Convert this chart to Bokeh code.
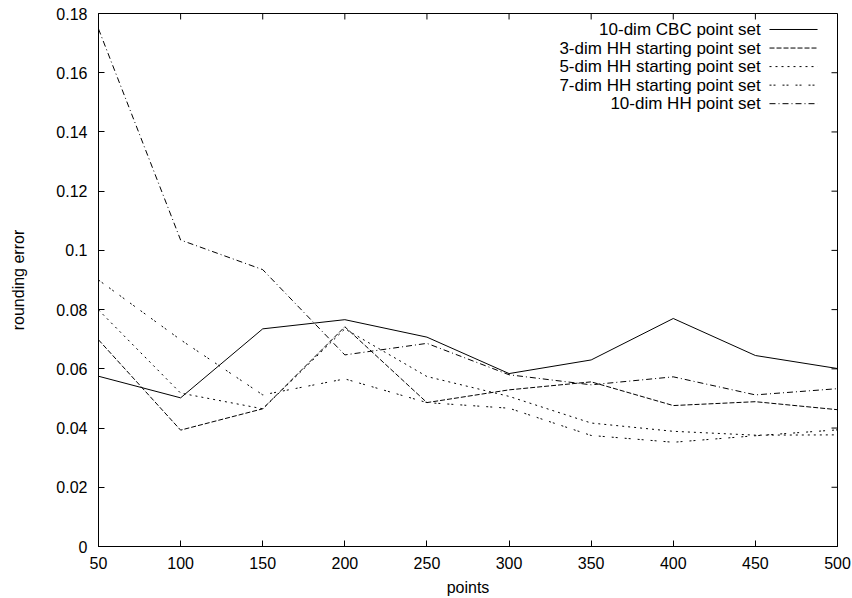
from bokeh.plotting import figure
from bokeh.models import Range1d, FixedTicker, CustomJSTickFormatter
from bokeh.core.properties import value
from bokeh.embed import file_html
from bokeh.resources import INLINE

# ---- data ----
points = [50, 100, 150, 200, 250, 300, 350, 400, 450, 500]
cbc10 = [0.0575, 0.0502, 0.0735, 0.0766, 0.0707, 0.0584, 0.0630, 0.0770, 0.0645, 0.0601]
hh3 = [0.0698, 0.0393, 0.0465, 0.0742, 0.0486, 0.0529, 0.0556, 0.0476, 0.0489, 0.0462]
hh5 = [0.0799, 0.0518, 0.0465, 0.0735, 0.0574, 0.0507, 0.0417, 0.0389, 0.0376, 0.0377]
hh7 = [0.0900, 0.0698, 0.0512, 0.0566, 0.0486, 0.0467, 0.0375, 0.0352, 0.0374, 0.0394]
hh10 = [0.1748, 0.1035, 0.0935, 0.0647, 0.0686, 0.0580, 0.0546, 0.0573, 0.0512, 0.0533]

series_labels = ["10-dim CBC point set", "3-dim HH starting point set",
                 "5-dim HH starting point set", "7-dim HH starting point set",
                 "10-dim HH point set"]
x_ticks = [50, 100, 150, 200, 250, 300, 350, 400, 450, 500]
y_ticks = [0, 0.02, 0.04, 0.06, 0.08, 0.1, 0.12, 0.14, 0.16, 0.18]

# ---- styling / layout ----
FONT = "Liberation Sans"
FS = "16px"
LEG_FS = "17px"
dashes = ["solid", "5 2", "2 4", "2 2 2 7", "6 3 1 3"]
series = [cbc10, hh3, hh5, hh7, hh10]

W, H = 852, 598
BL, BR, BT, BB = 98, 15, 13, 51
FW, FH = W - BL - BR, H - BT - BB
TICK = 6

X0, X1 = 50, 500
Y0, Y1 = 0, 0.18

p = figure(width=W, height=H, x_range=Range1d(X0, X1), y_range=Range1d(Y0, Y1),
           output_backend="svg", toolbar_location=None,
           min_border_left=BL, min_border_right=BR, min_border_top=BT, min_border_bottom=BB,
           x_axis_label="points", y_axis_label="rounding error")
p.grid.visible = False
p.outline_line_color = "black"
p.outline_line_width = 1
p.background_fill_color = "white"
p.border_fill_color = "white"

fmt = CustomJSTickFormatter(code="return String(+tick.toFixed(4));")

for ax in p.xaxis:
    ax.ticker = FixedTicker(ticks=x_ticks)
    ax.formatter = fmt
    ax.major_label_standoff = 10
    ax.axis_label_standoff = 7
for ax in p.yaxis:
    ax.ticker = FixedTicker(ticks=y_ticks)
    ax.formatter = fmt
    ax.major_label_standoff = 11
    ax.axis_label_standoff = 26

for ax in list(p.xaxis) + list(p.yaxis):
    ax.major_tick_in = TICK
    ax.major_tick_out = 0
    ax.minor_tick_line_color = None
    ax.axis_line_color = "black"
    ax.major_tick_line_color = "black"
    ax.major_label_text_font = FONT
    ax.major_label_text_font_size = FS
    ax.major_label_text_color = "black"
    ax.axis_label_text_font = FONT
    ax.axis_label_text_font_size = FS
    ax.axis_label_text_font_style = "normal"
    ax.axis_label_text_color = "black"

# mirrored ticks on the top and right border (gnuplot style)
dy = TICK * (Y1 - Y0) / FH
dx = TICK * (X1 - X0) / FW
p.segment(x0=x_ticks, y0=[Y1] * len(x_ticks), x1=x_ticks, y1=[Y1 - dy] * len(x_ticks),
          line_color="black", line_width=1)
p.segment(x0=[X1] * len(y_ticks), y0=y_ticks, x1=[X1 - dx] * len(y_ticks), y1=y_ticks,
          line_color="black", line_width=1)

for ys, dash in zip(series, dashes):
    p.line(points, ys, line_color="black", line_width=1, line_dash=dash)

# ---- gnuplot-style legend (text right-aligned, sample to the right) ----
xr = X1 - X0
yr = Y1 - Y0
text_x = X0 + 0.896 * xr
seg_x0 = X0 + 0.908 * xr
seg_x1 = X0 + 0.973 * xr
for i, (lab, dash) in enumerate(zip(series_labels, dashes)):
    yy = Y1 - (0.030 + 0.0348 * i) * yr
    p.text(x=[text_x], y=[yy], text=[lab], text_align="right", text_baseline="middle",
           text_font=value(FONT), text_font_size=LEG_FS, text_color="black")
    p.line([seg_x0, seg_x1], [yy, yy], line_color="black", line_width=1, line_dash=dash)

open("out.html", "w").write(file_html(p, INLINE))
